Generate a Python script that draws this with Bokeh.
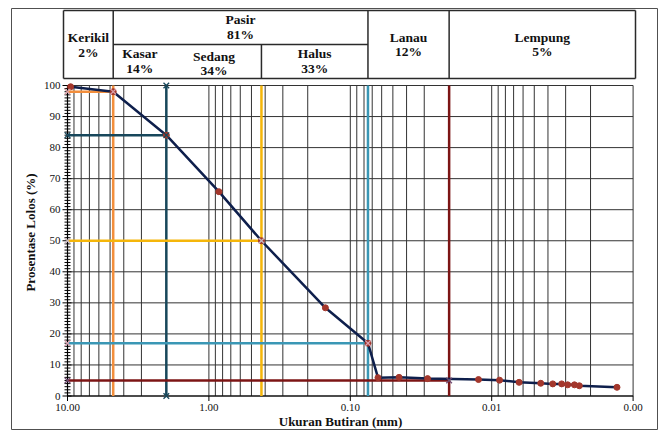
import math
from bokeh.plotting import figure
from bokeh.models import Range1d
from bokeh.core.properties import value
from bokeh.embed import file_html
from bokeh.resources import INLINE

# ---------------- data ----------------
grain_size_mm = [9.5, 4.75, 2.0, 0.85, 0.425, 0.15, 0.075, 0.0637, 0.0452, 0.0284,
                 0.0124, 0.0088, 0.0064, 0.0045, 0.0037, 0.0032, 0.0029, 0.0026, 0.0024, 0.0013]
percent_passing = [99.6, 98.0, 84.0, 65.8, 50.0, 28.4, 17.0, 5.9, 6.0, 5.6,
                   5.3, 5.1, 4.4, 4.1, 3.9, 3.9, 3.6, 3.6, 3.3, 2.8]

boundary_size_mm = [4.75, 2.0, 0.425, 0.075, 0.02]
boundary_passing = [98, 84, 50, 17, 5]

fraction_names = ["Kerikil", "Pasir", "Kasar", "Sedang", "Halus", "Lanau", "Lempung"]
fraction_percent = [2, 81, 14, 34, 33, 12, 5]

y_ticks = [0, 10, 20, 30, 40, 50, 60, 70, 80, 90, 100]
x_ticks = [10, 1, 0.1, 0.01, 0.001]
x_tick_labels = ["10.00", "1.00", "0.10", "0.01", "0.00"]
x_title = "Ukuran Butiran (mm)"
y_title = "Prosentase Lolos (%)"

# ---------------- layout / style ----------------
boundary_colors = ["#F28E3C", "#17475B", "#F5B60A", "#3A97B5", "#7C1414"]
boundary_marker_colors = ["#D9A0A8", "#17475B", "#C8B8C0", "#D9A0B0", "#6E4A70"]
vertical_end_marks = [False, True, False, False, False]
FONT = value("Liberation Serif")

PX_LEFT, PX_RIGHT, PY_TOP, PY_BOTTOM = 11, 658, 8, 430   # frame edges (canvas px)
X10, DEC = 67.0, 141.4       # px of 10 mm, px per decade
Y0, PPU = 395.5, 3.105       # px of 0 %, px per %


def xd(px):
    return 10 ** (1 - (px - X10) / DEC)


def yd(py):
    return (Y0 - py) / PPU


def xmid(a, b):
    return 10 ** ((math.log10(a) + math.log10(b)) / 2)


p = figure(width=PX_RIGHT, height=PY_BOTTOM, output_backend="svg", toolbar_location=None,
           x_axis_type="log", x_axis_location=None, y_axis_location=None,
           x_range=Range1d(xd(PX_LEFT), xd(PX_RIGHT)),
           y_range=Range1d(yd(PY_BOTTOM), yd(PY_TOP)),
           min_border_left=PX_LEFT, min_border_right=0,
           min_border_top=PY_TOP, min_border_bottom=0)
p.grid.grid_line_color = None
p.outline_line_color = "#505050"
p.outline_line_width = 1
p.background_fill_color = "white"
p.border_fill_color = "white"

x_lo, x_hi = x_ticks[0], x_ticks[-1]
y_lo, y_hi = y_ticks[0], y_ticks[-1]

# ---------------- grid ----------------
grid_x = []
for k in range(len(x_ticks) - 1):
    for m in range(10, 0, -1):
        v = m * x_ticks[k + 1]
        if not any(abs(v - g) / g < 1e-6 for g in grid_x):
            grid_x.append(v)
p.segment(x0=grid_x, x1=grid_x, y0=[y_lo] * len(grid_x), y1=[y_hi] * len(grid_x),
          line_color="#333333", line_width=1)
p.segment(x0=[x_lo] * len(y_ticks), x1=[x_hi] * len(y_ticks), y0=y_ticks, y1=y_ticks,
          line_color="#333333", line_width=1)

# ---------------- axes (lines, ticks, labels) ----------------
p.segment(x0=[x_lo], x1=[x_lo], y0=[y_lo], y1=[y_hi], line_color="black", line_width=1.2)
p.segment(x0=[x_lo], x1=[x_hi], y0=[y_lo], y1=[y_lo], line_color="black", line_width=1.2)
p.segment(x0=[xd(X10 - 5)] * len(y_ticks), x1=[xd(X10 + 4)] * len(y_ticks),
          y0=y_ticks, y1=y_ticks, line_color="black", line_width=1)
minor_y = [v for v in range(y_lo, y_hi + 1) if v % 10 != 0]
p.segment(x0=[xd(X10 - 3)] * len(minor_y), x1=[xd(X10 + 3)] * len(minor_y),
          y0=minor_y, y1=minor_y, line_color="black", line_width=1)
p.segment(x0=x_ticks, x1=x_ticks, y0=[y_lo] * len(x_ticks), y1=[yd(Y0 + 5)] * len(x_ticks),
          line_color="black", line_width=1)

p.text(x=[xd(60)] * len(y_ticks), y=y_ticks, text=[str(v) for v in y_ticks],
       text_align="right", text_baseline="middle", text_font=FONT,
       text_font_size="11px", text_color="#111111")
p.text(x=x_ticks, y=[yd(407)] * len(x_ticks), text=x_tick_labels,
       text_align="center", text_baseline="middle", text_font=FONT,
       text_font_size="11px", text_color="#111111")
p.text(x=[xd(30)], y=[yd(232)], text=[y_title], angle=math.pi / 2,
       text_align="center", text_baseline="middle", text_font=FONT,
       text_font_size="13px", text_font_style="bold", text_color="#111111")
p.text(x=[xd(340)], y=[yd(421)], text=[x_title],
       text_align="center", text_baseline="middle", text_font=FONT,
       text_font_size="13px", text_font_style="bold", text_color="#111111")

# ---------------- header table ----------------
T_L, T_R = xd(63), xd(635)
T_TOP, T_MID, T_BOT = yd(10), yd(44), yd(78)
b_g, b_cs, b_mf, b_sand, b_clay = boundary_size_mm
tx0 = [T_L, T_L, T_L, T_R, b_g, b_sand, b_clay, b_mf, b_g]
tx1 = [T_R, T_R, T_L, T_R, b_g, b_sand, b_clay, b_mf, b_sand]
ty0 = [T_TOP, T_BOT, T_TOP, T_TOP, T_TOP, T_TOP, T_TOP, T_MID, T_MID]
ty1 = [T_TOP, T_BOT, T_BOT, T_BOT, T_BOT, T_BOT, T_BOT, T_BOT, T_MID]
p.segment(x0=tx0, x1=tx1, y0=ty0, y1=ty1, line_color="#2a2a2a", line_width=1.5)

cells = [(T_L, b_g, 37, 52), (b_g, b_sand, 19, 34), (b_g, b_cs, 53, 68),
         (b_cs, b_mf, 56, 70), (b_mf, b_sand, 53, 68), (b_sand, b_clay, 37, 51),
         (b_clay, T_R, 37, 51)]
cx = [xmid(c[0], c[1]) for c in cells]
p.text(x=cx, y=[yd(c[2]) for c in cells], text=fraction_names,
       text_align="center", text_baseline="middle", text_font=FONT,
       text_font_size="13.5px", text_font_style="bold", text_color="#111111")
p.text(x=cx, y=[yd(c[3]) for c in cells], text=[f"{v}%" for v in fraction_percent],
       text_align="center", text_baseline="middle", text_font=FONT,
       text_font_size="13.5px", text_font_style="bold", text_color="#111111")

# ---------------- boundary reference lines ----------------
for d, pp, col in zip(boundary_size_mm, boundary_passing, boundary_colors):
    p.segment(x0=[d, x_lo], x1=[d, d], y0=[y_lo, pp], y1=[y_hi, pp],
              line_color=col, line_width=2.5)

# ---------------- grading curve ----------------
p.line(grain_size_mm, percent_passing, line_color="#0E1F4C", line_width=2.5)
p.scatter(grain_size_mm, percent_passing, marker="circle", size=6,
          fill_color="#A3372C", line_color="#A3372C")

for d, pp, mcol, ends in zip(boundary_size_mm, boundary_passing,
                             boundary_marker_colors, vertical_end_marks):
    mx = [x_lo, d] + ([d, d] if ends else [])
    my = [pp, pp] + ([y_lo, y_hi] if ends else [])
    p.scatter(mx, my, marker="x", size=8, line_color=mcol, line_width=1.3)

open("out.html", "w").write(file_html(p, INLINE))
